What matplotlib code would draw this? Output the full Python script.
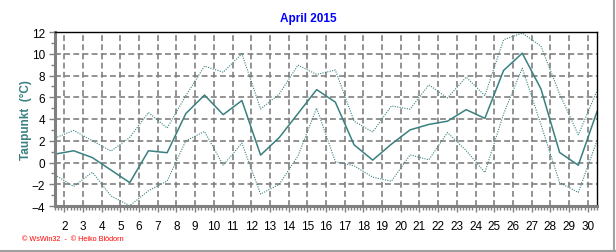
import numpy as np
import matplotlib
matplotlib.use("Agg")
import matplotlib.pyplot as plt
from matplotlib.lines import Line2D
from matplotlib.ticker import MultipleLocator, FixedLocator

plt.rcParams['font.family'] = ['Liberation Sans', 'DejaVu Sans']

# daily dew point values, April 2015 (degC)
days = np.arange(1, 31)
tp_mean = [0.77, 1.08, 0.45, -0.7, -1.85, 1.08, 0.9, 4.5, 6.2, 4.4,
           5.7, 0.68, 2.3, 4.5, 6.7, 5.55, 1.63, 0.22, 1.69, 3.0,
           3.5, 3.8, 4.86, 4.06, 8.46, 10.05, 6.77, 0.92, -0.25, 4.68]
tp_max = [2.25, 2.95, 2.0, 1.05, 2.3, 4.6, 3.17, 6.15, 8.86, 8.3,
          10.0, 4.92, 6.3, 8.95, 8.1, 8.5, 3.8, 2.8, 5.2, 4.9,
          7.14, 5.94, 7.85, 6.15, 11.29, 11.9, 10.7, 6.3, 2.55, 6.6]
tp_min = [-1.14, -2.2, -0.9, -3.08, -3.97, -2.6, -1.7, 2.0, 2.85, -0.25,
          1.78, -2.9, -2.0, 0.6, 5.0, 0.08, -0.3, -1.35, -1.72, 0.7,
          0.25, 2.75, 1.1, -0.92, 4.46, 8.68, 3.5, -1.85, -2.75, 2.0]
day_labels = [str(d) for d in range(2, 31)]

teal = '#3a8080'
grid_grey = '#808080'

fig = plt.figure(figsize=(6.16, 2.53), dpi=100)
ax = fig.add_axes([55/616, 1 - 207/253, 542/616, 174/253])

# values belong to the middle of each day
x = days + 0.5
ax.plot(x, tp_max, color=teal, lw=0.8, ls=(0, (1, 1.2)))
ax.plot(x, tp_min, color=teal, lw=0.8, ls=(0, (1, 1.2)))
ax.plot(x, tp_mean, color=teal, lw=1.1)

ax.set_xlim(1.5, 30.5)
ax.set_ylim(-4, 12)

ax.xaxis.set_major_locator(FixedLocator(range(2, 31)))
ax.set_xticklabels(day_labels)
ax.xaxis.set_minor_locator(MultipleLocator(1/6))
ax.yaxis.set_major_locator(MultipleLocator(2))
ax.yaxis.set_minor_locator(MultipleLocator(1))

ax.grid(True, which='major', color=grid_grey, lw=1.2, ls=(0, (3.5, 2)))

for s in ['left', 'bottom']:
    ax.spines[s].set_color(grid_grey)
    ax.spines[s].set_linewidth(2.2)
for s in ['top', 'right']:
    ax.spines[s].set_color('black')
    ax.spines[s].set_linewidth(1.0)

ax.tick_params(axis='both', which='major', direction='out', length=4,
               width=1, color=grid_grey, labelsize=8.5, pad=3)
ax.tick_params(axis='both', which='minor', direction='out', length=3,
               width=1, color=grid_grey)
ax.tick_params(axis='x', which='major', pad=6)

ax.set_ylabel('Taupunkt  (°C)', color=teal, fontsize=8.5, fontweight='bold')
ax.yaxis.set_label_coords(-0.043, 0.5)

fig.text(0.5, 1 - 19/253, 'April 2015', color='#0000ff', fontsize=8.5,
         fontweight='bold', ha='center', va='center')
fig.text(22/616, 1 - 240/253, '© WsWin32  -  © Heiko Blödorn',
         color='#ff0000', fontsize=5.2, ha='left', va='center')

# panel frame, right and bottom edges
fig.add_artist(Line2D([614/616, 614/616], [0, 1], color='#a0a0a0', lw=1.5,
                      transform=fig.transFigure))
fig.add_artist(Line2D([0, 1], [1.5/253, 1.5/253], color='#a0a0a0', lw=1.5,
                      transform=fig.transFigure))

fig.savefig('out.png', dpi=100)
